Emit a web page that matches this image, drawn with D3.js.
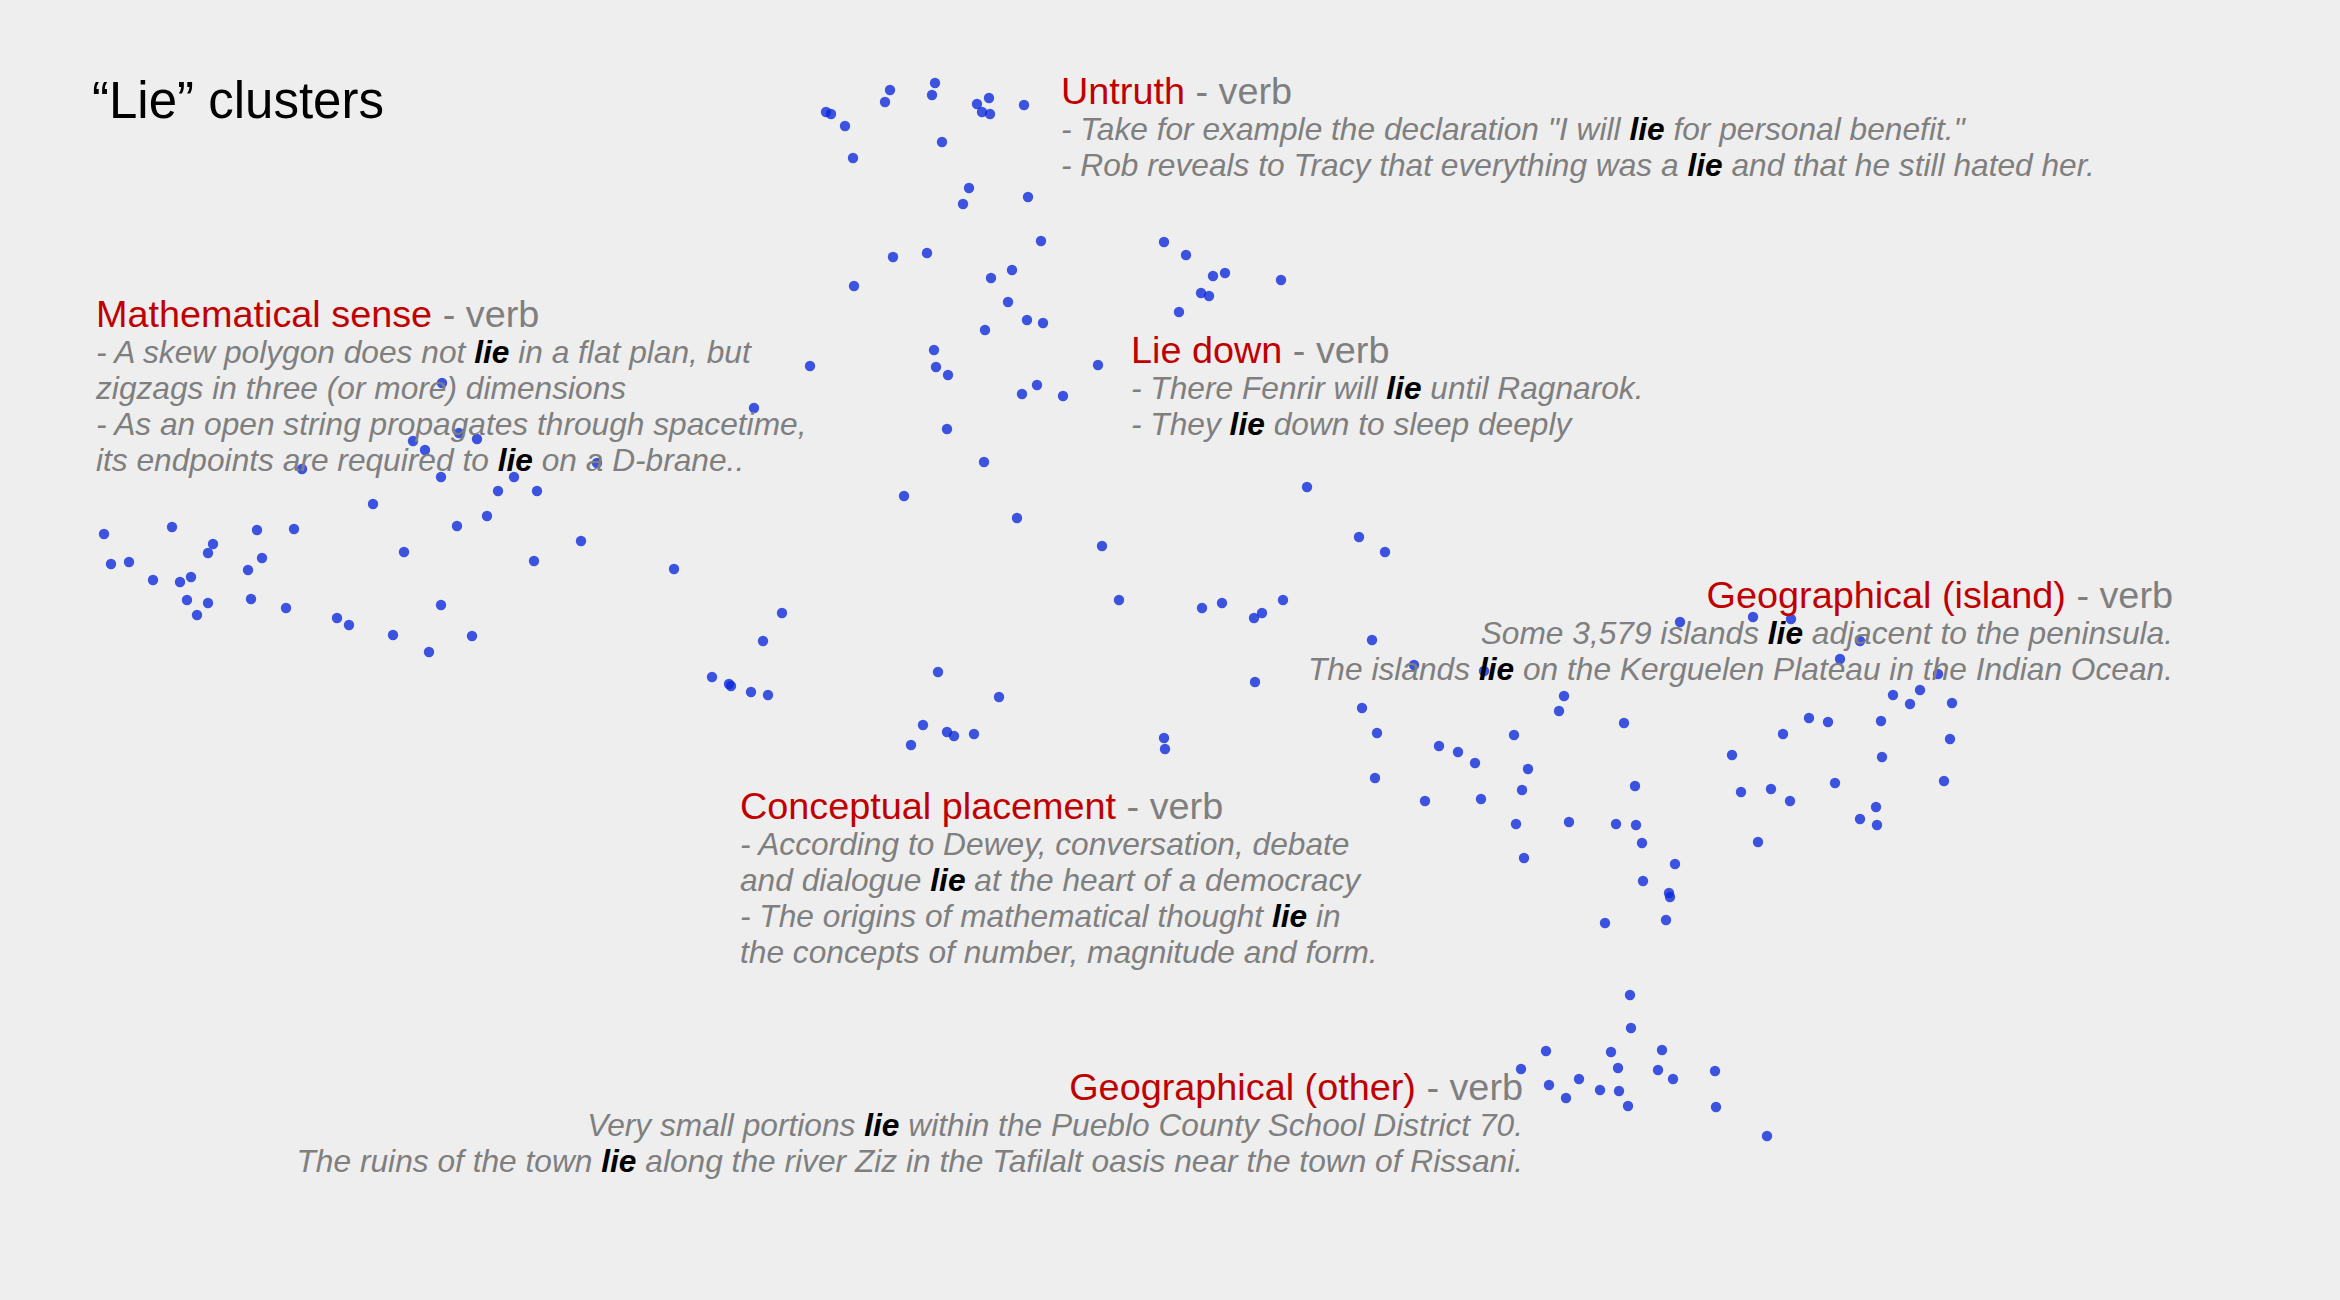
<!DOCTYPE html>
<html lang="en">
<head>
<meta charset="UTF-8">
<title>"Lie" clusters</title>
<script src="https://cdn.jsdelivr.net/npm/d3@7"></script>
<style>
  html, body { margin: 0; padding: 0; background: #eeeeee; }
  svg { display: block; }
</style>
</head>
<body>
<script>
// embedding coordinates of each usage of "lie"
const mathPts = [[442,383],[413,441],[425,450],[459,433],[477,439],[302,469],[441,477],[514,477],[498,491],[537,491],
  [373,504],[487,516],[457,526],[581,541],[104,534],[172,527],[257,530],[294,529],[213,544],[208,553],
  [404,552],[111,564],[129,562],[262,558],[534,561],[153,580],[180,582],[191,577],[248,570],[187,600],
  [208,603],[197,615],[251,599],[286,608],[337,618],[349,625],[441,605],[393,635],[472,636],[429,652]]
const middlePts = [[597,463],[674,569],[782,613],[763,641],[712,677],[729,684],[731,686],[751,692],[768,695],
  [938,672],[999,697],[923,725],[947,732],[954,736],[974,734],[911,745],[754,408],[904,496],[1017,518],
  [984,462],[947,429]]
const untruthPts = [[935,83],[890,90],[885,102],[932,95],[826,112],[831,114],[977,104],[989,98],[982,112],[990,114],
  [1024,105],[845,126],[942,142],[853,158],[969,188],[963,204],[1028,197],[1041,241],[893,257],[927,253],
  [854,286],[1012,270],[991,278],[1008,302],[1027,320],[1043,323],[985,330],[934,350],[936,367],[948,375],
  [810,366],[1098,365],[1037,385],[1022,394],[1063,396]]
const lieDownPts = [[1164,242],[1186,255],[1213,276],[1225,273],[1281,280],[1201,293],[1209,296],[1179,312],
  [1307,487],[1359,537],[1385,552],[1102,546],[1119,600],[1202,608],[1222,603],[1254,618],[1262,613],[1283,600]]
const placementPts = [[1372,640],[1255,682],[1414,665],[1484,671],[1362,708],[1377,733],[1164,738],[1165,749],
  [1439,746],[1458,752],[1475,763],[1375,778],[1680,622],[1564,696],[1559,711],[1624,723],[1514,735],
  [1528,769],[1522,790],[1425,801],[1481,799],[1516,824],[1569,822],[1616,824],[1636,825],[1642,843],
  [1635,786],[1524,858],[1675,864],[1643,881],[1669,893],[1670,897],[1605,923],[1666,920],[1630,995]]
const islandPts = [[1753,617],[1791,619],[1860,641],[1840,659],[1938,674],[1893,695],[1920,690],[1910,704],
  [1952,703],[1809,718],[1828,722],[1881,721],[1783,734],[1950,739],[1732,755],[1882,757],[1741,792],
  [1771,789],[1790,801],[1835,783],[1944,781],[1876,807],[1860,819],[1877,825],[1758,842]]
const otherPts = [[1631,1028],[1546,1051],[1521,1069],[1611,1052],[1662,1050],[1618,1068],[1658,1070],[1673,1079],
  [1715,1071],[1549,1085],[1579,1079],[1566,1098],[1600,1090],[1619,1091],[1628,1106],[1716,1107],[1767,1136]]

const allPts = [].concat(mathPts, middlePts, untruthPts, lieDownPts, placementPts, islandPts, otherPts)

// sense labels and example sentences (**lie** = highlighted)
const senseNames = ["Untruth", "Mathematical sense", "Lie down", "Geographical (island)", "Conceptual placement", "Geographical (other)"]
const senseExamples = [
  ['- Take for example the declaration "I will **lie** for personal benefit."',
   "- Rob reveals to Tracy that everything was a **lie** and that he still hated her."],
  ["- A skew polygon does not **lie** in a flat plan, but",
   "zigzags in three (or more) dimensions",
   "- As an open string propagates through spacetime,",
   "its endpoints are required to **lie** on a D-brane.."],
  ["- There Fenrir will **lie** until Ragnarok.",
   "- They **lie** down to sleep deeply"],
  ["Some 3,579 islands **lie** adjacent to the peninsula.",
   "The islands **lie** on the Kerguelen Plateau in the Indian Ocean."],
  ["- According to Dewey, conversation, debate",
   "and dialogue **lie** at the heart of a democracy",
   "- The origins of mathematical thought **lie** in",
   "the concepts of number, magnitude and form."],
  ["Very small portions **lie** within the Pueblo County School District 70.",
   "The ruins of the town **lie** along the river Ziz in the Tafilalt oasis near the town of Rissani."]
]

const w = 2340
const h = 1300
const font = "'Liberation Sans', Arial, Helvetica, sans-serif"

// where each label block sits (anchor point of the header baseline)
const labelPos = [
  {x: 1061, y: 104, anchor: "start"},
  {x: 96, y: 327, anchor: "start"},
  {x: 1131, y: 363, anchor: "start"},
  {x: 2173, y: 608, anchor: "end"},
  {x: 740, y: 819, anchor: "start"},
  {x: 1523, y: 1100, anchor: "end"}
]
const lineStep = 36

const svg = d3.select("body").append("svg")
  .attr("width", w)
  .attr("height", h)

svg.append("rect").attr("width", w).attr("height", h).attr("fill", "#eeeeee")

const xScale = d3.scaleLinear().domain([0, 2340]).range([0, w])
const yScale = d3.scaleLinear().domain([0, 1300]).range([0, h])

// points
svg.append("g")
  .selectAll("circle")
  .data(allPts)
  .enter()
  .append("circle")
  .attr("cx", d => xScale(d[0]))
  .attr("cy", d => yScale(d[1]))
  .attr("r", 5.2)
  .style("fill", "#0a28dc")
  .style("opacity", 0.78)

// title
svg.append("text")
  .attr("x", 92)
  .attr("y", 118)
  .style("font-family", font)
  .style("font-size", "51px")
  .style("fill", "#000")
  .text("\u201CLie\u201D clusters")

// sense labels
senseNames.forEach((name, i) => {
  const pos = labelPos[i]
  const g = svg.append("g").style("font-family", font)

  const head = g.append("text")
    .attr("x", pos.x)
    .attr("y", pos.y)
    .attr("text-anchor", pos.anchor)
    .style("font-size", "37.8px")
  head.append("tspan").style("fill", "#c00000").text(name)
  head.append("tspan").style("fill", "#7f7f7f").text(" - verb")

  senseExamples[i].forEach((line, j) => {
    const t = g.append("text")
      .attr("x", pos.x)
      .attr("y", pos.y + lineStep * (j + 1))
      .attr("text-anchor", pos.anchor)
      .style("font-size", "31.7px")
      .style("font-style", "italic")
      .style("fill", "#7f7f7f")
    line.split("**").forEach((part, k) => {
      if (part === "") return
      const s = t.append("tspan").text(part)
      if (k % 2 === 1) s.style("font-weight", "bold").style("fill", "#000")
    })
  })
})
</script>
</body>
</html>
